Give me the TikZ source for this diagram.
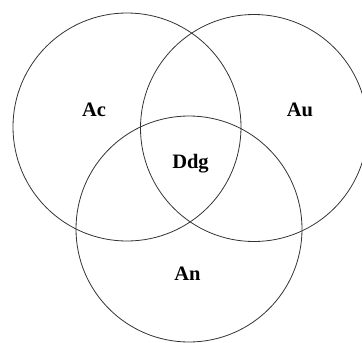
\documentclass[tikz,border=0pt]{standalone}
\usepackage{fontspec}
\setmainfont{Liberation Serif}
\begin{document}
\begin{tikzpicture}[x=1pt,y=-1pt,
  ring/.style={draw=black!80,line width=0.8pt},
  lab/.style={font=\fontsize{20.5}{24}\selectfont\bfseries,inner sep=0pt,anchor=base}]
\useasboundingbox (0,0) rectangle (362,343);
\clip (0,0) rectangle (362,343);
\draw[ring] (127,127) circle[radius=114];
\draw[ring] (254,128) circle[radius=113.5];
\draw[ring] (189,229) circle[radius=113];
\node[lab] (ac) at (94,116.5) {Ac};
\node[lab] (au) at (300,116.5) {Au};
\node[lab] (ddg) at (190.5,168) {Ddg};
\node[lab] (an) at (187.5,280) {An};
\end{tikzpicture}
\end{document}
